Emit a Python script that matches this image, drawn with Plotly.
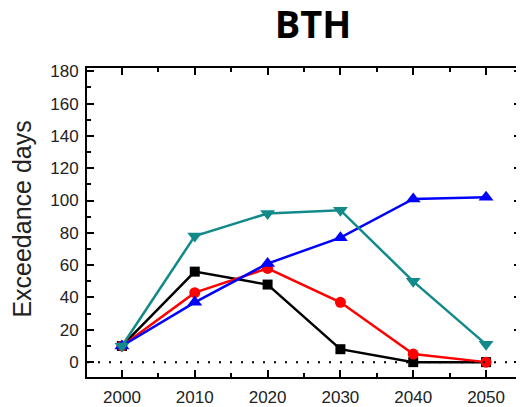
import plotly.graph_objects as go

years = [2000, 2010, 2020, 2030, 2040, 2050]
black_sq = [10, 56, 48, 8, 0, 0]
red_circ = [10, 43, 58, 37, 5, 0]
blue_up = [10, 37, 61, 77, 101, 102]
teal_down = [10, 78, 92, 94, 50, 11]

series = [
    (black_sq, "#000000", "square", 10),
    (red_circ, "#ff0000", "circle", 11),
    (blue_up, "#0000ff", "triangle-up", 13),
    (teal_down, "#128a8a", "triangle-down", 13),
]

fig = go.Figure()
for vals, color, sym, size in series:
    fig.add_trace(go.Scatter(
        x=years, y=vals, mode="lines+markers",
        line=dict(color=color, width=2.5),
        marker=dict(symbol=sym, size=size, color=color),
        showlegend=False,
    ))

# dotted zero line
fig.add_hline(y=0, line=dict(color="black", width=2, dash="2px,9px"))

axis_common = dict(
    showgrid=False, zeroline=False, showline=True, linecolor="black", linewidth=2,
    mirror="ticks", ticks="inside", ticklen=7, tickwidth=2, tickcolor="black",
    tickfont=dict(family="Liberation Sans, Arial", size=17, color="#222"),
    automargin=False,
)

fig.update_xaxes(
    range=[1995.2, 2054.8], tick0=2000, dtick=10, ticklabelstandoff=4,
    minor=dict(ticks="inside", dtick=5, tick0=2000, ticklen=4, tickwidth=2, tickcolor="black"),
    **axis_common,
)
fig.update_yaxes(
    range=[-9.2, 182], tick0=0, dtick=20, ticklabelstandoff=3,
    minor=dict(ticks="inside", dtick=10, tick0=0, ticklen=4, tickwidth=2, tickcolor="black"),
    **axis_common,
)

fig.add_annotation(
    text="Exceedance days", textangle=-90, showarrow=False,
    xref="paper", yref="paper", x=-0.1486, y=0.511, xanchor="center", yanchor="middle",
    font=dict(family="Liberation Sans, Arial", size=25, color="#222"),
)

# page body has an 8px margin, so the figure is shrunk by that much
fig.update_layout(
    width=516, height=399,
    margin=dict(l=79, r=3, t=60, b=30),
    plot_bgcolor="white", paper_bgcolor="white",
    title=dict(text="<b>BTH</b>", x=0.591, xanchor="center", y=0.957, yanchor="middle",
               font=dict(family="Open Sans, Liberation Sans", size=38, color="black")),
)

fig.write_html("out.html")
